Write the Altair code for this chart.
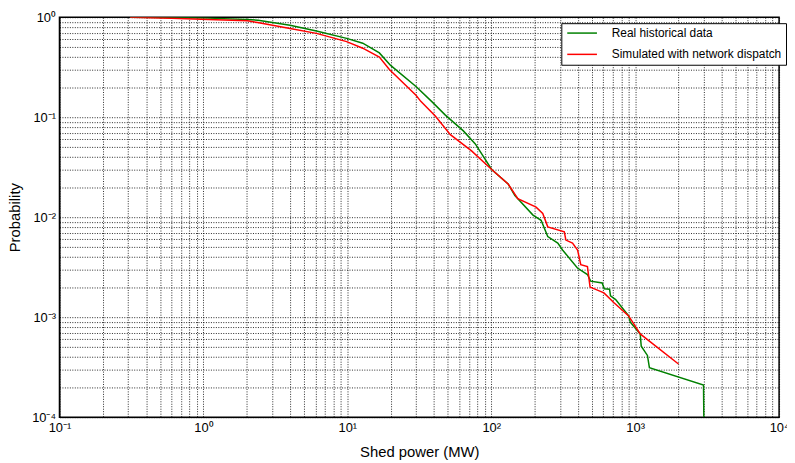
import altair as alt
import pandas as pd

# Real historical data (green)
real_x = [0.31, 0.6, 1.08, 2.0, 2.4, 4.0, 6.1, 9.9, 12.8, 16.7, 20.0, 30, 38.5, 48, 64, 77.5, 100.7,
          131, 146, 195, 222, 247, 290, 313, 397, 466, 491, 590, 610, 664, 674, 732, 901, 925,
          1084, 1102, 1217, 1256, 2985, 3000]
real_p = [1.0, 0.995, 0.98, 0.95, 0.934, 0.83, 0.73, 0.615, 0.55, 0.44, 0.33, 0.203, 0.144, 0.105,
          0.073, 0.054, 0.030, 0.0215, 0.0165, 0.0105, 0.0093, 0.0064, 0.0055, 0.0047, 0.0031,
          0.00267, 0.00229, 0.0022, 0.00192, 0.0019, 0.00163, 0.0015, 0.00103, 0.00089, 0.00068,
          0.000513, 0.000414, 0.000313, 0.00021, 0.0001]

# Simulated with network dispatch (red)
sim_x = [0.31, 0.6, 1.08, 2.03, 2.38, 4.0, 6.1, 9.9, 12.8, 16.7, 19.6, 30, 32.4, 41, 52, 73, 100.7,
         131, 153, 205, 228, 247, 322, 330, 367, 398, 419, 466, 486, 607, 710, 901, 1084, 2000]
sim_p = [1.0, 0.977, 0.95, 0.92, 0.886, 0.77, 0.69, 0.57, 0.49, 0.40, 0.30, 0.166, 0.144, 0.102,
         0.067, 0.046, 0.030, 0.0215, 0.0153, 0.0126, 0.0109, 0.008, 0.00715, 0.0059, 0.0055,
         0.0047, 0.00335, 0.0032, 0.002, 0.00175, 0.0014, 0.00103, 0.00068, 0.00034]

series_names = ["Real historical data", "Simulated with network dispatch"]
series_colors = ["#008000", "#ff0000"]

x_ticks = [k * 10.0 ** e for e in range(-1, 4) for k in range(1, 10)] + [1e4]
y_ticks = [k * 10.0 ** e for e in range(-4, 0) for k in range(1, 10)] + [1.0]

rows = []
for i, (x, p) in enumerate(zip(real_x, real_p)):
    rows.append({"x": x, "p": p, "s": series_names[0], "i": i})
for i, (x, p) in enumerate(zip(sim_x, sim_p)):
    rows.append({"x": x, "p": p, "s": series_names[1], "i": i})
df = pd.DataFrame(rows)

x_label = ("datum.value == 0.1 ? '10⁻¹' : datum.value == 1 ? '10⁰' : datum.value == 10 ? '10¹' : "
           "datum.value == 100 ? '10²' : datum.value == 1000 ? '10³' : datum.value == 10000 ? '10⁴' : ''")
y_label = ("datum.value == 1 ? '10⁰' : datum.value == 0.1 ? '10⁻¹' : datum.value == 0.01 ? '10⁻²' : "
           "datum.value == 0.001 ? '10⁻³' : datum.value == 0.0001 ? '10⁻⁴' : ''")

font = "Liberation Sans"

chart = alt.Chart(df).mark_line(strokeWidth=1.5, clip=True).encode(
    x=alt.X("x:Q", scale=alt.Scale(type="log", domain=[0.1, 1e4], nice=False),
            axis=alt.Axis(values=x_ticks, labelExpr=x_label, title="Shed power (MW)",
                          grid=True, ticks=False, labelOverlap=False, labelFlush=False,
                          labelPadding=5, titleY=35, titleBaseline="middle")),
    y=alt.Y("p:Q", scale=alt.Scale(type="log", domain=[1e-4, 1], nice=False),
            axis=alt.Axis(values=y_ticks, labelExpr=y_label, title="Probability",
                          grid=True, ticks=False, labelOverlap=False, labelFlush=False,
                          labelPadding=4, titleX=-45, titleY=202, titleBaseline="middle",
                          titleAngle=-90)),
    color=alt.Color("s:N", scale=alt.Scale(domain=series_names, range=series_colors),
                    legend=alt.Legend(title=None, orient="none", legendX=507, legendY=6,
                                      fillColor="white", strokeColor="black", padding=4,
                                      symbolType="M-3,0H3", symbolSize=100,
                                      symbolStrokeWidth=1.5, symbolOffset=11,
                                      labelFontSize=12, labelFont=font, labelOffset=24,
                                      labelColor="black",
                                      rowPadding=9.5, labelLimit=400)),
    order="i:Q",
).properties(
    width=727, height=404,
    autosize=alt.AutoSizeParams(type="none"),
    padding={"left": 52, "top": 7, "right": 8, "bottom": 44},
    background="white",
).configure_axis(
    labelFont=font, titleFont=font, labelFontSize=13, titleFontSize=15,
    labelColor="black", titleColor="black", titleFontWeight="normal",
    gridColor="#000000", gridDash=[1, 1.5], gridOpacity=0.85, gridWidth=1,
    domainColor="black", domainWidth=1,
).configure_view(
    stroke="black", strokeWidth=1.5
)

chart.save("out.html", embed_options={"renderer": "svg", "actions": False})
